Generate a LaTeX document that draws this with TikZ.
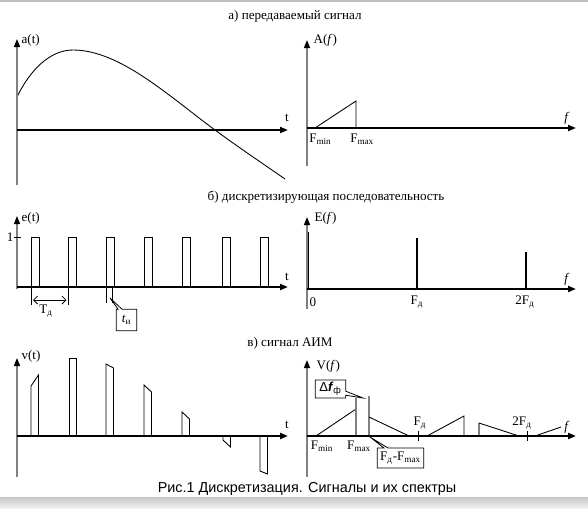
\documentclass[tikz,border=0pt]{standalone}
\usepackage{fontspec}
\setmainfont{Liberation Serif}
\setsansfont{Liberation Sans}
\usetikzlibrary{arrows.meta, shapes.callouts, calc}

\begin{document}
\begin{tikzpicture}[x=0.75pt, y=-0.75pt,
    font=\fontsize{9.8}{11}\selectfont,
    vaxis/.style={draw=gray, line width=1.1pt, -{Triangle[length=6pt, width=4.5pt, color=black]}},
    haxis/.style={draw=black, line width=1.6pt, -{Triangle[length=6pt, width=4.5pt]}},
    sig/.style={black, line width=0.65pt},
    spec/.style={black, line width=1.9pt},
    band/.style={gray, line width=1pt},
    callbox/.style={rectangle callout, draw, fill=white, line width=0.6pt, inner sep=1pt, callout pointer width=3pt}]
    % Page frame
    \useasboundingbox (0,0) rectangle (588,508);
    \fill[black!25] (0,0) rectangle (588,1.5);
    \shade[top color=black!22, bottom color=black!6] (0,497) rectangle (588,508);

    % а) transmitted signal
    \node (titleA) at (295,16) {а) передаваемый сигнал};
    \draw[sig] (17,97) .. controls (30,70) and (50,50) .. (73,50)
        .. controls (120,50) and (170,97) .. (215,130)
        .. controls (238,147) and (262,163) .. (285,179);
    \draw[vaxis] (17,185) -- (17,39);
    \draw[haxis] (17,130) -- (288,130);
    \node[right, inner sep=1pt] (aLbl) at (20,40) {a(t)};
    \node (aT) at (287,118) {t};

    % spectrum A(f)
    \draw[sig] (315,128) -- (356,101) -- (356,128);
    \draw[vaxis] (307,166) -- (307,40);
    \draw[haxis] (307,128) -- (576,128);
    \node[right, inner sep=1pt] (AfLbl) at (312,40) {A(\textit{f})};
    \node (AfF) at (567,118) {\textit{f}};
    \node[right, inner sep=0pt] (AfMin) at (309,139) {F\textsubscript{min}};
    \node[right, inner sep=0pt] (AfMax) at (350,139) {F\textsubscript{max}};

    % б) sampling sequence
    \node (titleB) at (326,197) {б) дискретизирующая последовательность};
    \foreach \xs in {31,68.5,106,144,182,222.5,260}
        \draw[sig] (\xs,287) -- (\xs,237) -- ({\xs+8},237) -- ({\xs+8},287);
    \draw[vaxis] (17,289) -- (17,216);
    \draw[haxis] (17,287) -- (288,287);
    \draw[sig] (14,237) -- (21,237);
    \node[left, inner sep=1pt] (eOne) at (15,237) {1};
    \node[right, inner sep=1pt] (eLbl) at (20,218) {e(t)};
    \node (eT) at (287,277) {t};

    % period and pulse width
    \draw[sig] (31,288) -- (31,305);
    \draw[sig] (68.5,288) -- (68.5,305);
    \draw[sig, {Straight Barb[length=3pt]}-{Straight Barb[length=3pt]}] (33,300) -- (66.5,300);
    \node (TdLbl) at (46,311) {T\textsubscript{д}};
    \draw[sig] (106,288) -- (106,303);
    \draw[sig] (112,288) -- (112,303);
    \node[callbox, minimum width=15.5pt, minimum height=16pt,
        callout absolute pointer={(110,298)}] (tiBox) at (126.5,320) {\textit{t}\textsubscript{и}};

    % spectrum E(f)
    \draw[spec] (308,289) -- (308,232);
    \draw[spec] (417,289) -- (417,238);
    \draw[spec] (526,289) -- (526,252);
    \draw[vaxis] (307,309) -- (307,217);
    \draw[haxis] (307,289) -- (576,289);
    \node[right, inner sep=1pt] (EfLbl) at (313,218) {E(\textit{f})};
    \node (EfF) at (567,279) {\textit{f}};
    \node (EfZero) at (313,302) {0};
    \node (EfFd) at (417,302) {F\textsubscript{д}};
    \node (EfTwoFd) at (525,302) {2F\textsubscript{д}};

    % в) PAM signal
    \node (titleC) at (290,343) {в) сигнал АИМ};
    \foreach \xs/\yl/\yr in {31/386/375, 69/358/358, 106/364/368, 144/385/392,
                             182/412/419, 223/440/447, 260/471/474}
        \draw[sig] (\xs,436) -- (\xs,\yl) -- ({\xs+7.5},\yr) -- ({\xs+7.5},436);
    \draw[vaxis] (17,477) -- (17,358);
    \draw[haxis] (17,436) -- (288,436);
    \node[right, inner sep=1pt] (vLbl) at (20,356) {v(t)};
    \node (vT) at (287,425) {t};

    % spectrum V(f)
    \draw[sig] (316,436) -- (356,409);
    \draw[band] (356,436) -- (356,398);
    \draw[band] (369,436) -- (369,396);
    \draw[sig] (369,417) -- (409,436);
    \draw[sig] (418,431) -- (418,441);
    \draw[sig] (427,436) -- (464,416) -- (464,436);
    \draw[band] (479,436) -- (479,423);
    \draw[sig] (479,423) -- (519,436);
    \draw[sig] (527,431) -- (527,441);
    \draw[sig] (535,436) -- (561,427);
    \draw[vaxis] (307,477) -- (307,360);
    \draw[haxis] (307,436) -- (576,436);
    \node[right, inner sep=1pt] (VfLbl) at (315,366) {V(\textit{f})};
    \node (VfF) at (567,427) {\textit{f}};
    \node (VfMin) at (322,446) {F\textsubscript{min}};
    \node (VfMax) at (359,446) {F\textsubscript{max}};
    \node (VfFd) at (420,423) {F\textsubscript{д}};
    \node (VfTwoFd) at (522,423) {2F\textsubscript{д}};
    \node[callbox, minimum width=23pt, minimum height=13.5pt,
        callout absolute pointer={(363,398)}] (dfBox) at (330.5,389)
        {\sffamily Δ\textbf{\textit{f}}\textsubscript{ф}};
    \node[callbox, minimum width=35pt, minimum height=15pt,
        callout absolute pointer={(370,437)}] (diffBox) at (400.5,458)
        {F\textsubscript{д}-F\textsubscript{max}};

    % Caption
    \node[font=\sffamily\fontsize{10.8}{12}\selectfont] (caption) at (307,489)
        {Рис.1 Дискретизация. Сигналы и их спектры};
\end{tikzpicture}
\end{document}
